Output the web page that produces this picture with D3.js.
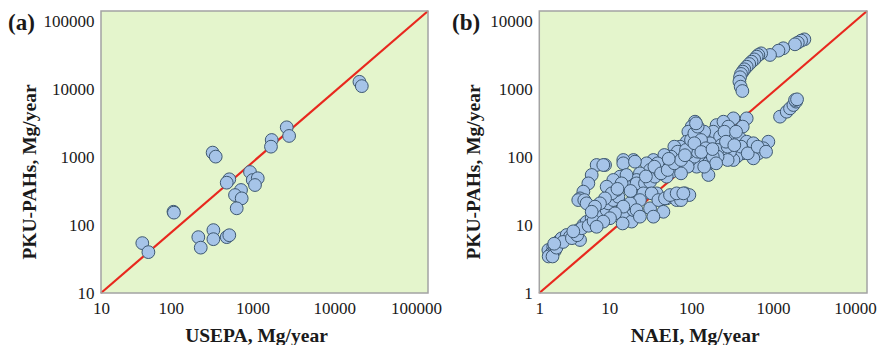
<!DOCTYPE html>
<html>
<head>
<meta charset="utf-8">
<script src="https://cdn.jsdelivr.net/npm/d3@7"></script>
<style>
  html, body { margin: 0; padding: 0; background: #fff; }
  svg { display: block; }
  text { font-family: "Liberation Serif", "Times New Roman", serif; fill: #1a1a1a; }
</style>
</head>
<body>
<svg id="chart" width="882" height="345"></svg>
<script>
// ---- Panel (a): USEPA inventory vs PKU-PAHs (Mg/year) ----
const ticksA = [10, 100, 1000, 10000, 100000];
const usepa = [32, 38, 77, 78, 155, 166, 237, 237, 345, 371, 232, 253, 371, 345,
  665, 718, 827, 765, 516, 436, 526, 457, 1225, 1200, 1870, 2000, 14500, 15500];
const pkuA = [51, 38, 142, 138, 62, 44, 78, 58, 62, 66, 980, 860, 410, 367,
  520, 400, 424, 340, 289, 245, 220, 159, 1480, 1190, 2240, 1690, 9900, 8600];

// ---- Panel (b): NAEI inventory vs PKU-PAHs (Mg/year) ----
const ticksB = [1, 10, 100, 1000, 10000];
const naei = [
  // upper arc
  1720, 1570, 1430, 1320, 950, 830, 655, 510, 472, 450, 420, 390, 365, 340, 318, 304, 290, 282, 277, 287, 301,
  // lower right streak
  868, 1047, 1150, 1263, 1361, 1324, 1400,
  // main cloud, upper part
  234, 340, 304, 79.6, 72.4, 66, 146, 177, 203, 133, 161, 101, 83.4, 63, 52.2, 57.3, 75.9, 91.5, 121, 168,
  223, 282, 340, 410, 625, 543, 472, 410, 304, 257, 234, 213, 177, 121, 101, 116, 116, 83.4, 69.1, 57.3,
  43.3, 47.5, 41.3, 35.9, 31.2, 24.7, 20.4, 22.5, 16.9, 14.1, 10.6, 6.34, 15.4, 20.4, 27.1, 35.9, 47.5, 60.1,
  16.9, 14.1, 11.1, 9.66, 8.01, 6.64, 7.29, 9.22, 11.6,
  103, 182, 252, 150, 199, 290, 350, 463, 586, 199, 150, 78.1, 67.9, 85.7, 64.7, 53.7, 67.9, 53.7,
  // lower left chain
  1.35, 1.29, 1.48, 1.41, 1.55, 1.71, 1.87, 2.16, 2.37, 2.72, 3.14, 2.99, 3.45, 3.78, 4.36, 5.01, 5.77, 6.64,
  6.96, 8.01, 9.22, 9.66, 10.6, 13.4,
  1.3, 1.45, 1.62, 1.95, 2.5, 2.9, 3.3, 4.0, 4.6, 2.6, 1.52,
  // left arms
  5.01, 6.04, 4.36, 3.97, 3.45, 3.14, 2.99, 3.54, 3.78,
  10.6, 14.7, 11.6, 10.1, 8.79, 7.64, 6.34, 5.5, 4.78, 4.36,
  // middle
  15.4, 19.5, 22.5, 25.8, 29.7, 34.2, 39.4, 47.5, 57.3, 18.6, 23.5, 16.9, 22.5, 28.4, 34.2, 39.4, 47.5, 57.3,
  32.7, 24.7, 14.1, 12.8, 10.6, 8.4, 7.29, 6.04, 5.01, 15.4, 16.9, 10.4,
  44.5, 48.9, 40.5, 33.6, 27.8, 25.4, 30.6, 36.9, 44.5, 53.7, 61.8, 71.1, 78.1, 85.7, 81.8, 94.2, 108, 131,
  144, 103, 78.1,
  60, 95, 130, 190, 240, 38, 20, 13, 9
];
const pkuB = [
  3960, 3800, 3560, 3370, 2960, 2740, 2380, 2510, 2380, 2250, 2060, 1910, 1770, 1620, 1490, 1380, 1280, 1150, 995, 845, 733,
  317, 373, 416, 464, 518, 547, 559,
  300, 300, 229, 269, 229, 194, 241, 269, 229, 194, 165, 165, 148, 140, 119, 95.7, 113, 119, 133, 126,
  148, 156, 140, 133, 140, 113, 95.7, 81.3, 95.7, 85.9, 77, 101, 85.9, 95.7, 77, 69.1, 47.2, 61.9, 77, 69.1,
  85.9, 61.9, 52.6, 44.7, 61.9, 77, 69.1, 55.6, 49.8, 77, 77, 65.4, 40.1, 32.2, 25.9, 22, 20.8, 25.9,
  23.2, 18.7, 34, 44.7, 40.1, 32.2, 23.2, 20.8, 16.8,
  194, 194, 194, 107, 119, 119, 95.7, 119, 101, 77, 85.9, 85.9, 101, 101, 61.9, 49.8, 24.5, 20.8,
  3.46, 4.07, 4.54, 3.65, 3.98, 5.35, 5.96, 6.65, 6.3, 7, 5.65, 7.8, 9.22, 10.2, 11.5, 12.1, 13.5, 15,
  18.7, 20.8, 23.2, 14.2, 12.1, 10.3,
  3.3, 3.3, 4.4, 5.3, 6.0, 6.6, 8.3, 9.0, 10.5, 7.5, 5.0,
  65.4, 65.4, 47.2, 35.9, 27.4, 22, 20.8, 20.8, 18.7,
  69.1, 72.9, 47.2, 35.9, 28.9, 25.9, 22, 18.7, 16.8, 14.2,
  35.9, 35.9, 37.9, 44.7, 52.6, 61.9, 69.1, 77, 85.9, 25.9, 25.9, 20.8, 15.9, 20.8, 22, 24.5, 25.9, 25.9,
  14.2, 12.1, 15, 18.7, 16.8, 13.5, 11.5, 10.3, 8.7, 15, 12.1, 9.7,
  119, 101, 85.9, 90.6, 69.1, 61.9, 49.8, 55.6, 69.1, 77, 107, 148, 184, 229, 255, 148, 113, 85.9,
  69.1, 61.9, 133,
  90, 100, 110, 140, 125, 80, 45, 28, 30
];

const svg = d3.select("#chart");
const fmt = d3.format("d");

function drawPanel(p) {
  const dom = [p.ticks[0], p.ticks[p.ticks.length - 1]];
  const x = d3.scaleLog().domain(dom).range([p.left, p.right]);
  const y = d3.scaleLog().domain(dom).range([p.bottom, p.top]);
  // tick labels run on a slightly compressed vertical scale
  const yLab = y.copy().range([p.bottom, p.top + 10]);

  const g = svg.append("g");

  g.append("rect")
    .attr("x", p.left).attr("y", p.top)
    .attr("width", p.right - p.left).attr("height", p.bottom - p.top)
    .attr("fill", "#e4f5cc");

  // 1:1 line
  g.append("line")
    .attr("x1", x(dom[0])).attr("y1", y(dom[0]))
    .attr("x2", x(dom[1])).attr("y2", y(dom[1]))
    .attr("stroke", "#e8281e").attr("stroke-width", 2.2);

  g.append("g").selectAll("circle")
    .data(d3.range(p.xs.length))
    .join("circle")
    .attr("cx", i => x(p.xs[i]))
    .attr("cy", i => y(p.ys[i]))
    .attr("r", 6.4)
    .attr("fill", "#a6c4e8")
    .attr("stroke", "#3e5870")
    .attr("stroke-width", 1);

  g.append("rect")
    .attr("x", p.left).attr("y", p.top)
    .attr("width", p.right - p.left).attr("height", p.bottom - p.top)
    .attr("fill", "none").attr("stroke", "#a3a3a3").attr("stroke-width", 1.5);

  const xAxis = g.append("g")
    .attr("transform", `translate(0,${p.bottom})`)
    .call(d3.axisBottom(x).tickValues(p.ticks).tickFormat(fmt).tickSize(0).tickPadding(9));
  xAxis.select(".domain").remove();
  xAxis.selectAll("text")
    .attr("font-size", 17)
    .attr("font-family", "Liberation Serif, serif")
    .attr("fill", "#1a1a1a")
    .attr("dx", d => d === dom[0] ? 0 : -12);

  const yAxis = g.append("g")
    .attr("transform", `translate(${p.left},0)`)
    .call(d3.axisLeft(yLab).tickValues(p.ticks).tickFormat(fmt).tickSize(0).tickPadding(6.5));
  yAxis.select(".domain").remove();
  yAxis.selectAll("text")
    .attr("font-size", 17)
    .attr("font-family", "Liberation Serif, serif")
    .attr("fill", "#1a1a1a");

  g.append("text")
    .attr("x", (p.left + p.right) / 2 - 8).attr("y", 342)
    .attr("text-anchor", "middle")
    .attr("font-size", 19.5).attr("font-weight", "bold")
    .text(p.xTitle);

  g.append("text")
    .attr("transform", `translate(${p.yTitleX},172) rotate(-90)`)
    .attr("text-anchor", "middle")
    .attr("font-size", 19.5).attr("font-weight", "bold")
    .text("PKU-PAHs, Mg/year");

  g.append("text")
    .attr("x", p.labelX).attr("y", 30)
    .attr("font-size", 23).attr("font-weight", "bold")
    .text(p.label);
}

drawPanel({
  left: 101, right: 428, top: 11, bottom: 293,
  ticks: ticksA, xs: usepa, ys: pkuA,
  xTitle: "USEPA, Mg/year", label: "(a)", labelX: 8, yTitleX: 36
});

drawPanel({
  left: 539.3, right: 867, top: 11, bottom: 293,
  ticks: ticksB, xs: naei, ys: pkuB,
  xTitle: "NAEI, Mg/year", label: "(b)", labelX: 452, yTitleX: 480
});
</script>
</body>
</html>
